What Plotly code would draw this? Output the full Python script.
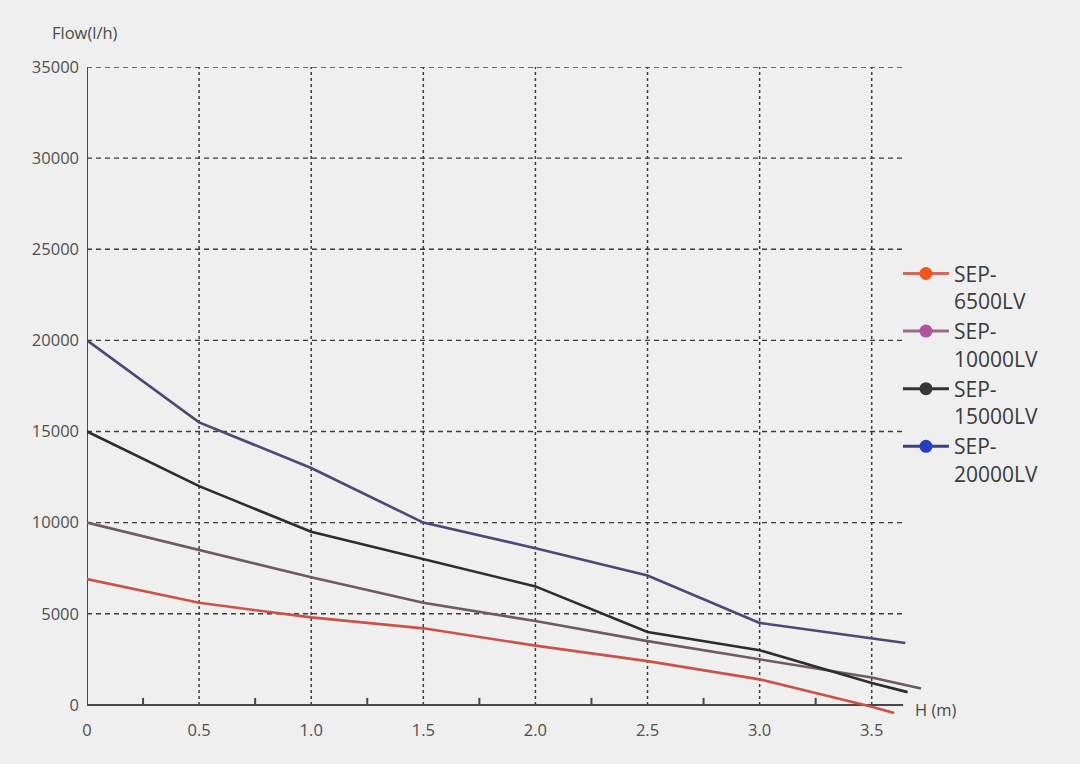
import plotly.graph_objects as go

# Data
head_m = [0, 0.5, 1.0, 1.5, 2.0, 2.5, 3.0, 3.5]

h_6500 = head_m + [3.60]
flow_6500 = [6900, 5600, 4800, 4200, 3250, 2400, 1400, -100, -450]

h_10000 = head_m + [3.72]
flow_10000 = [10000, 8500, 7000, 5600, 4600, 3500, 2500, 1500, 900]

h_15000 = head_m + [3.66]
flow_15000 = [15000, 12000, 9500, 8000, 6500, 4000, 3000, 1200, 700]

h_20000 = [0, 0.5, 1.0, 1.5, 2.0, 2.5, 3.0, 3.65]
flow_20000 = [20000, 15500, 13000, 10000, 8600, 7100, 4500, 3400]

series_names = ["SEP-<br>6500LV", "SEP-<br>10000LV", "SEP-<br>15000LV", "SEP-<br>20000LV"]
line_colors = ["#c9534b", "#6f5868", "#2c2c2c", "#4a4875"]
legend_line_colors = ["#d2695e", "#9a6a8c", "#333333", "#3b4080"]
marker_colors = ["#f0561e", "#b0559c", "#383838", "#2440c0"]

x_tickvals = [0, 0.5, 1.0, 1.5, 2.0, 2.5, 3.0, 3.5]
x_ticktext = ["0", "0.5", "1.0", "1.5", "2.0", "2.5", "3.0", "3.5"]
x_minor = [0.25, 0.75, 1.25, 1.75, 2.25, 2.75, 3.25]
y_tickvals = [0, 5000, 10000, 15000, 20000, 25000, 30000, 35000]
y_ticktext = ["0", "5000", "10000", "15000", "20000", "25000", "30000", "35000"]

x_axis_end = 3.64   # where the drawn axis / grid stop
y_axis_top = 35000

xs = [h_6500, h_10000, h_15000, h_20000]
ys = [flow_6500, flow_10000, flow_15000, flow_20000]

fig = go.Figure()
for i in range(4):
    fig.add_trace(go.Scatter(
        x=xs[i], y=ys[i], mode="lines",
        line=dict(color=line_colors[i], width=2.6),
        showlegend=False, hoverinfo="skip",
    ))
for i in range(4):
    fig.add_trace(go.Scatter(
        x=[None], y=[None], mode="lines+markers", name=series_names[i],
        line=dict(color=legend_line_colors[i], width=3),
        marker=dict(color=marker_colors[i], size=13),
        showlegend=True,
    ))

grid_col = "#3c3c3c"
axis_col = "#474747"
shapes = []
# horizontal dashed grid lines (stop at the axis end)
for v in y_tickvals[1:]:
    shapes.append(dict(type="line", xref="x", yref="y", x0=0, x1=x_axis_end, y0=v, y1=v,
                       line=dict(color=grid_col, width=1.4, dash="5px,4px"), layer="below"))
# vertical dotted grid lines (stop at y = 0)
for v in x_tickvals[1:]:
    shapes.append(dict(type="line", xref="x", yref="y", x0=v, x1=v, y0=0, y1=y_axis_top,
                       line=dict(color=grid_col, width=1.5, dash="dot"), layer="below"))
# axis lines
shapes.append(dict(type="line", xref="x", yref="y", x0=0, x1=x_axis_end, y0=0, y1=0,
                   line=dict(color=axis_col, width=2), layer="below"))
shapes.append(dict(type="line", xref="x", yref="y", x0=0, x1=0, y0=0, y1=y_axis_top,
                   line=dict(color=axis_col, width=2), layer="below"))
# minor ticks on the x axis, pointing up
for v in x_minor:
    shapes.append(dict(type="line", xref="x", yref="y", x0=v, x1=v,
                       ysizemode="pixel", yanchor=0, y0=0, y1=7,
                       line=dict(color=axis_col, width=2), layer="below"))

bg = "#efefef"
fig.update_layout(
    width=1080, height=764,
    margin=dict(l=87, r=150, t=67, b=50),
    paper_bgcolor=bg, plot_bgcolor=bg,
    font=dict(family="Open Sans, DejaVu Sans, sans-serif", color="#4a4a4a"),
    showlegend=True,
    legend=dict(
        x=0.962, xanchor="left", y=0.712, yanchor="top", valign="top",
        font=dict(size=21, color="#3a3a3a"),
        bgcolor="rgba(0,0,0,0)", tracegroupgap=0, itemwidth=46,
    ),
    xaxis=dict(
        range=[0, 3.76], tickvals=x_tickvals, ticktext=x_ticktext,
        showgrid=False, showline=False, zeroline=False,
        ticks="", tickfont=dict(size=16.5, color="#505050"),
        ticklabelstandoff=4,
    ),
    yaxis=dict(
        range=[-500, 35000], tickvals=y_tickvals, ticktext=y_ticktext,
        showgrid=False, showline=False, zeroline=False,
        ticks="", tickfont=dict(size=16.5, color="#505050"),
        ticklabelstandoff=7,
    ),
    shapes=shapes,
    annotations=[
        dict(text="Flow(l/h)", xref="x", yref="y", x=0, y=y_axis_top,
             xanchor="center", yanchor="middle", xshift=-2, yshift=35, showarrow=False,
             font=dict(size=16.5, color="#4a4a4a")),
        dict(text="H (m)", xref="x", yref="y", x=x_axis_end, y=0,
             xanchor="left", yanchor="middle", xshift=10, yshift=-5, showarrow=False,
             font=dict(size=16.5, color="#4a4a4a")),
    ],
)

fig.write_html(
    "out.html",
    config={"displayModeBar": False},
    post_script="document.body.style.margin='0';document.body.style.background='#efefef';",
)
